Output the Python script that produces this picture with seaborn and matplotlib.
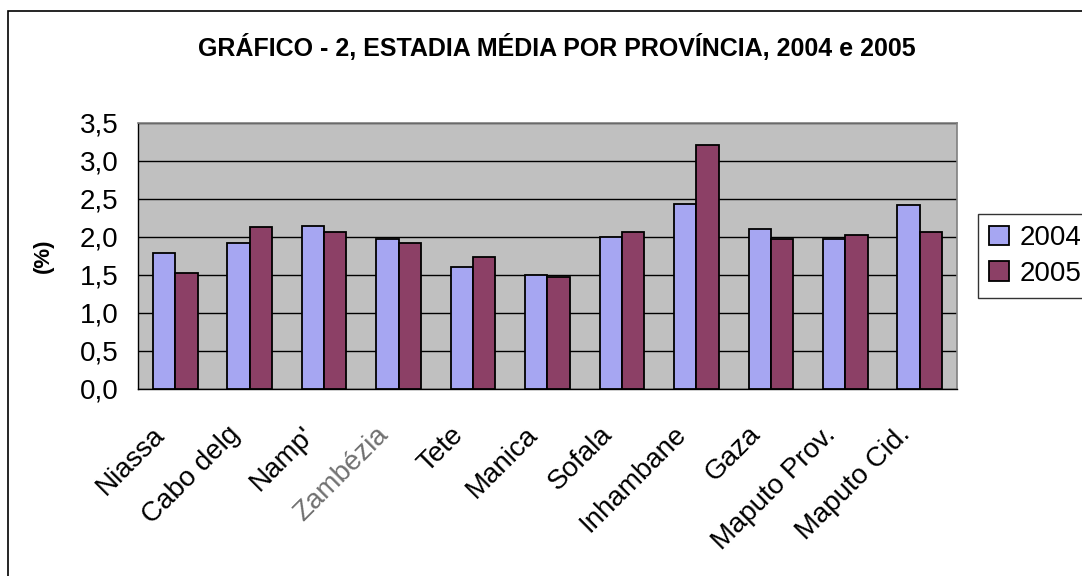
import matplotlib
matplotlib.use("Agg")
import matplotlib.pyplot as plt
import matplotlib.transforms as mtransforms
import seaborn as sns
import numpy as np
import pandas as pd
from matplotlib.patches import Rectangle

# dati
provincias = ['Niassa', 'Cabo delg', "Namp'", 'Zambézia', 'Tete', 'Manica',
              'Sofala', 'Inhambane', 'Gaza', 'Maputo Prov.', 'Maputo Cid.']
val_2004 = [1.79, 1.92, 2.15, 1.97, 1.60, 1.50, 2.00, 2.44, 2.10, 1.97, 2.42]
val_2005 = [1.52, 2.13, 2.07, 1.92, 1.74, 1.47, 2.07, 3.21, 1.97, 2.02, 2.07]
anos = ['2004', '2005']
y_ticks = [0.0, 0.5, 1.0, 1.5, 2.0, 2.5, 3.0, 3.5]
y_labels = ['0,0', '0,5', '1,0', '1,5', '2,0', '2,5', '3,0', '3,5']

df = pd.DataFrame({
    'provincia': provincias * 2,
    'valor': val_2004 + val_2005,
    'ano': [anos[0]] * len(provincias) + [anos[1]] * len(provincias),
})

sns.set_style('white')
plt.rcParams['font.family'] = ['Liberation Sans', 'DejaVu Sans']
plt.rcParams['text.color'] = 'black'
plt.rcParams['xtick.color'] = 'black'
plt.rcParams['ytick.color'] = 'black'
plt.rcParams['axes.labelcolor'] = 'black'

fig = plt.figure(figsize=(10.82, 5.76), dpi=100)
ax = fig.add_axes([0.1275, 0.3247, 0.757, 0.4618])

# bordo esterno (solo sinistra e sopra visibili)
fig.patches.append(Rectangle((8 / 1082, -0.1), 1.2, 1 - 11 / 576 + 0.1,
                             transform=fig.transFigure, fill=False,
                             edgecolor='black', linewidth=1.2))

ax.set_facecolor('#C0C0C0')
sns.barplot(data=df, x='provincia', y='valor', hue='ano',
            palette=['#9999FF', '#993366'], width=0.6,
            edgecolor='black', linewidth=1.3, ax=ax, zorder=3)

ax.set_ylim(0, 3.5)
ax.set_xlim(-0.5, len(provincias) - 0.5)
ax.set_yticks(y_ticks)
ax.set_yticklabels(y_labels, fontsize=20)
ax.yaxis.grid(True, color='black', linewidth=1)
ax.set_axisbelow(True)

# tacche tra le categorie come in Excel
ax.set_xticks(np.arange(len(provincias)))
ax.set_xticklabels(provincias, rotation=45, ha='right', va='center',
                   rotation_mode='anchor', fontsize=20)
ax.set_xticks(np.arange(len(provincias) + 1) - 0.5, minor=True)
ax.tick_params(axis='x', which='major', length=0, pad=30)
ax.tick_params(axis='x', which='minor', length=7, width=1, color='black', direction='out')
ax.tick_params(axis='y', length=6, width=1, color='black', direction='out', pad=8)
ax.get_xticklabels()[3].set_color('#707070')

# sposto un po' a sinistra le etichette ruotate
shift = mtransforms.ScaledTranslation(-0.14, 0, fig.dpi_scale_trans)
for lab in ax.get_xticklabels():
    lab.set_transform(lab.get_transform() + shift)

for s in ['top', 'right']:
    ax.spines[s].set_color('#808080')
    ax.spines[s].set_linewidth(1.2)
for s in ['left', 'bottom']:
    ax.spines[s].set_color('black')
    ax.spines[s].set_linewidth(1)

ax.set_xlabel('')
ax.set_ylabel('(%)', fontsize=16, fontweight='bold')
ax.yaxis.set_label_coords(-0.103, 0.5)

fig.text(557 / 1082, 1 - 47 / 576, 'GRÁFICO - 2, ESTADIA MÉDIA POR PROVÍNCIA, 2004 e 2005',
         ha='center', va='center', fontsize=18, fontweight='bold')

ax.legend_.remove()
handles, labels = ax.get_legend_handles_labels()
leg = fig.legend(handles, labels, loc='center left',
                 bbox_to_anchor=(978 / 1082, 1 - 256 / 576), borderaxespad=0,
                 fontsize=20, frameon=True, fancybox=False,
                 edgecolor='black', handlelength=0.7, handleheight=0.7,
                 handletextpad=0.4, borderpad=0.4, labelspacing=0.35)
leg.get_frame().set_linewidth(1)

fig.savefig('out.png', dpi=100)
